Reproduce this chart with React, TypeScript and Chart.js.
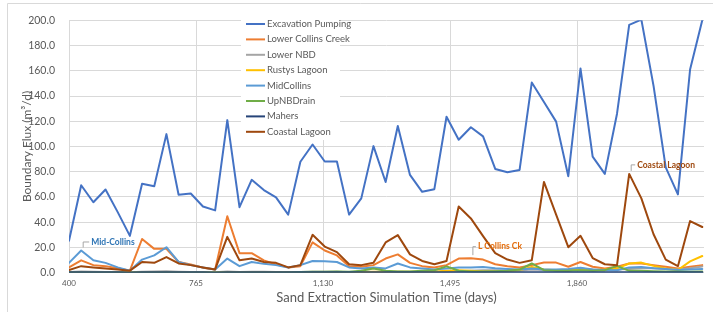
import React, { useEffect, useRef } from 'react';
import { Chart, registerables } from 'chart.js';

Chart.register(...registerables);

// Simulation time (days) for each sample
const days = [
  400, 435, 470, 505, 540, 575, 610, 645, 680, 715, 750, 785, 820, 855, 890, 925, 960, 995,
  1030, 1065, 1100, 1135, 1170, 1205, 1240, 1275, 1310, 1345, 1380, 1415, 1450, 1485, 1520,
  1555, 1590, 1625, 1660, 1695, 1730, 1765, 1800, 1835, 1870, 1905, 1940, 1975, 2010, 2045,
  2080, 2115, 2150, 2185, 2220,
];

const xTicks = [400, 765, 1130, 1495, 1860];

const excavationPumping = [
  25.3, 69.3, 55.8, 65.9, 48, 29.2, 70.5, 68.5, 109.8, 61.8,
  62.8, 52.5, 49.4, 120.9, 51.9, 73.6, 65.5, 59.7, 46, 87.9,
  101.6, 88.1, 88.1, 46, 58.9, 100.3, 71.9, 116.3, 77.5, 64.1,
  66.2, 123.6, 105.4, 115.3, 108, 82.2, 79.6, 81.4, 150.7, 135.2,
  119.7, 76.5, 161.8, 92, 78.3, 126, 196.4, 200.5, 148, 83.5,
  62, 161, 200,
];

const lowerCollinsCreek = [
  4.2, 9.8, 6, 5.2, 3.5, 1.6, 26.7, 18.9, 18.9, 8.5,
  6.5, 4, 2.5, 44.7, 15.5, 15.5, 9.8, 6.5, 4.2, 5.2,
  24, 17.6, 13.7, 5.2, 4.7, 6, 11.2, 14.5, 7.8, 5.2,
  4.2, 6, 11.2, 11.5, 10.4, 6.7, 5.2, 4.2, 6, 8,
  8, 4.7, 8.5, 4.7, 3.4, 4.7, 7.3, 7.3, 6, 4.7,
  3.4, 4.7, 6,
];

const lowerNBD = [
  0.5, 1, 0.8, 0.6, 0.5, 0.3, 0.8, 1, 1.2, 0.8,
  0.6, 0.5, 0.3, 1, 0.6, 0.8, 0.7, 0.6, 0.4, 0.5,
  0.8, 0.8, 0.7, 0.4, 0.4, 0.5, 0.6, 0.8, 0.6, 0.5,
  0.5, 0.8, 1.2, 1.5, 2, 2, 1.8, 1.8, 2.5, 2.2,
  2.2, 2, 3, 2.5, 2, 2.5, 3, 3.5, 3.5, 3,
  2.5, 3.5, 5,
];

const rustysLagoon = [
  0.2, 0.2, 0.2, 0.2, 0.2, 0.2, 0.2, 0.2, 0.2, 0.2,
  0.2, 0.2, 0.2, 0.3, 0.3, 0.3, 0.3, 0.3, 0.3, 0.4,
  0.5, 0.5, 0.5, 0.5, 0.6, 0.8, 0.8, 0.8, 0.8, 1,
  1, 1.5, 2, 1.5, 1, 1, 1.2, 2, 4.5, 2.5,
  2, 1.5, 3.5, 2, 2.5, 3.4, 7.3, 8, 5.4, 3.4,
  2.1, 9, 13.2,
];

const midCollins = [
  7.8, 17.6, 9.8, 7.8, 4.2, 1.6, 10.4, 13.7, 20.2, 8.5,
  6, 4.2, 2.6, 11.2, 5.2, 8.5, 7, 6, 4.2, 6,
  9.3, 9, 8.5, 4.2, 3.4, 4.2, 3.4, 7.3, 4.2, 3.4,
  2.6, 3.4, 4.2, 4.2, 4.5, 3.5, 3, 2.5, 3.4, 2.6,
  2.5, 3, 4, 2.6, 2.2, 2, 4.2, 4.5, 3.5, 3,
  2.2, 2.6, 3,
];

const upNBDrain = [
  0.2, 0.2, 0.2, 0.2, 0.2, 0.2, 0.2, 0.2, 0.2, 0.2,
  0.2, 0.2, 0.2, 0.2, 0.2, 0.2, 0.2, 0.2, 0.2, 0.5,
  0.8, 0.8, 1, 0.8, 1.5, 3.4, 1.5, 1, 1, 1.5,
  2, 5, 1.5, 1, 1, 1.2, 1.5, 2.5, 7.3, 2,
  1.5, 1.5, 2, 1.5, 2, 5.4, 1.5, 1.5, 1.2, 1,
  1, 0.8, 1,
];

const mahers = [
  0.3, 0.4, 0.3, 0.3, 0.3, 0.2, 0.4, 0.4, 0.4, 0.3,
  0.3, 0.3, 0.2, 0.4, 0.3, 0.3, 0.3, 0.3, 0.3, 0.3,
  0.4, 0.4, 0.3, 0.3, 0.3, 0.3, 0.3, 0.4, 0.3, 0.3,
  0.3, 0.4, 0.4, 0.4, 0.4, 0.3, 0.3, 0.3, 0.4, 0.4,
  0.4, 0.3, 0.4, 0.3, 0.3, 0.3, 0.4, 0.4, 0.4, 0.3,
  0.3, 0.4, 0.4,
];

const coastalLagoon = [
  2.1, 5.2, 4.2, 3.4, 2.5, 1.6, 8.5, 7.8, 12.4, 7.3,
  6, 4.2, 2.6, 28.4, 9.8, 11.2, 8.5, 7.8, 4.2, 6,
  30, 20.7, 16.3, 6.7, 6, 7.8, 24, 29.8, 14.5, 9.3,
  6.7, 9.3, 52.5, 43, 29, 15.5, 10.4, 7.8, 9.8, 71.9,
  46, 20.2, 29.2, 11.6, 6.7, 6, 78.3, 58.9, 30.5, 10.4,
  5.2, 40.9, 36.2,
];

const seriesNames = [
  'Excavation Pumping', 'Lower Collins Creek', 'Lower NBD', 'Rustys Lagoon',
  'MidCollins', 'UpNBDrain', 'Mahers', 'Coastal Lagoon',
];
const seriesValues = [
  excavationPumping, lowerCollinsCreek, lowerNBD, rustysLagoon,
  midCollins, upNBDrain, mahers, coastalLagoon,
];
const seriesColors = [
  '#4472C4', '#ED7D31', '#A5A5A5', '#FFC000', '#5B9BD5', '#70AD47', '#264478', '#9E480E',
];

const callouts = [
  { text: 'Mid-Collins', values: midCollins, index: 1, color: '#2F75B5', dx: 10, dy: -8.5 },
  { text: 'L Collins Ck', values: lowerCollinsCreek, index: 33, color: '#E46C0A', dx: 7, dy: -11.5 },
  { text: 'Coastal Lagoon', values: coastalLagoon, index: 46, color: '#9E480E', dx: 8, dy: -9 },
];

const FONT = 'Lato, "Open Sans", sans-serif';

const overlayPlugin = {
  id: 'overlay',
  beforeDraw(chart: any) {
    const ctx = chart.ctx;
    ctx.save();
    ctx.strokeStyle = '#D9D9D9';
    ctx.lineWidth = 1;
    ctx.beginPath();
    ctx.moveTo(7.5, 312);
    ctx.lineTo(7.5, 3.5);
    ctx.lineTo(713, 3.5);
    ctx.stroke();
    ctx.restore();
  },
  afterDatasetsDraw(chart: any) {
    const ctx = chart.ctx;
    const xs = chart.scales.x;
    const ys = chart.scales.y;
    ctx.save();
    // callouts
    callouts.forEach((c) => {
      const px = xs.getPixelForValue(days[c.index]);
      const py = ys.getPixelForValue(c.values[c.index]);
      ctx.strokeStyle = '#A6A6A6';
      ctx.lineWidth = 1;
      ctx.beginPath();
      ctx.moveTo(px + 2, py - 3);
      ctx.lineTo(px + 2, py + c.dy);
      ctx.lineTo(px + c.dx - 2, py + c.dy);
      ctx.stroke();
      ctx.fillStyle = c.color;
      ctx.font = `bold 8.5px ${FONT}`;
      ctx.textBaseline = 'middle';
      ctx.textAlign = 'left';
      ctx.fillText(c.text, px + c.dx, py + c.dy);
    });
    // legend
    const lx = 241;
    const ly = 15;
    ctx.fillStyle = '#FFFFFF';
    ctx.fillRect(lx, ly, 99, 125);
    chart.data.datasets.forEach((ds: any, i: number) => {
      const y = 24 + i * 15.4;
      ctx.strokeStyle = ds.borderColor;
      ctx.lineWidth = 2;
      ctx.beginPath();
      ctx.moveTo(246, y);
      ctx.lineTo(265, y);
      ctx.stroke();
      ctx.fillStyle = '#595959';
      ctx.font = `9.5px ${FONT}`;
      ctx.textBaseline = 'middle';
      ctx.textAlign = 'left';
      ctx.fillText(ds.label, 267, y);
    });
    ctx.restore();
  },
};

export default function App() {
  const canvasRef = useRef<HTMLCanvasElement | null>(null);

  useEffect(() => {
    document.body.style.margin = '0';
    const canvas = canvasRef.current;
    if (!canvas) return;
    const chart = new Chart(canvas, {
      type: 'line',
      data: {
        datasets: seriesNames.map((name, i) => ({
          label: name,
          data: seriesValues[i].map((v, j) => ({ x: days[j], y: v })),
          borderColor: seriesColors[i],
          backgroundColor: seriesColors[i],
          borderWidth: 2,
          pointRadius: 0,
          tension: 0,
          fill: false,
          borderJoinStyle: 'round',
          borderCapStyle: 'round',
          order: seriesNames.length - i,
        })),
      },
      options: {
        animation: false,
        responsive: false,
        maintainAspectRatio: false,
        layout: { padding: { left: 0, right: 9, top: 15, bottom: 0 } },
        plugins: {
          legend: { display: false },
          tooltip: { enabled: false },
        },
        scales: {
          x: {
            type: 'linear',
            min: 400,
            max: 2225,
            afterBuildTicks: (s: any) => {
              s.ticks = xTicks.map((v) => ({ value: v }));
            },
            afterFit: (s: any) => {
              s.height = 49.3;
            },
            grid: { color: '#D9D9D9', drawTicks: false },
            border: { display: false },
            ticks: {
              padding: 6,
              color: '#595959',
              maxRotation: 0,
              autoSkip: false,
              font: { family: FONT, size: 8 },
              callback: (v: any) => Number(v).toLocaleString('en-US'),
            },
            title: {
              display: true,
              text: 'Sand Extraction Simulation Time (days)',
              color: '#595959',
              font: { family: FONT, size: 13 },
              padding: { top: 0, bottom: 16 },
            },
          },
          y: {
            min: 0,
            max: 200,
            afterFit: (s: any) => {
              s.width = 69;
            },
            grid: { color: '#D9D9D9', drawTicks: false },
            border: { display: false },
            ticks: {
              stepSize: 20,
              padding: 14,
              color: '#595959',
              font: { family: FONT, size: 10.5 },
              callback: (v: any) => Number(v).toFixed(1),
            },
            title: {
              display: true,
              text: 'Boundary Flux (m³/d)',
              color: '#595959',
              font: { family: FONT, size: 12 },
              padding: { top: 19.5, bottom: 0 },
            },
          },
        },
      } as any,
      plugins: [overlayPlugin],
    });
    return () => chart.destroy();
  }, []);

  return (
    <div style={{ width: 713, height: 322, background: '#FFFFFF' }}>
      <canvas ref={canvasRef} width={713} height={322} style={{ display: 'block' }} />
    </div>
  );
}
